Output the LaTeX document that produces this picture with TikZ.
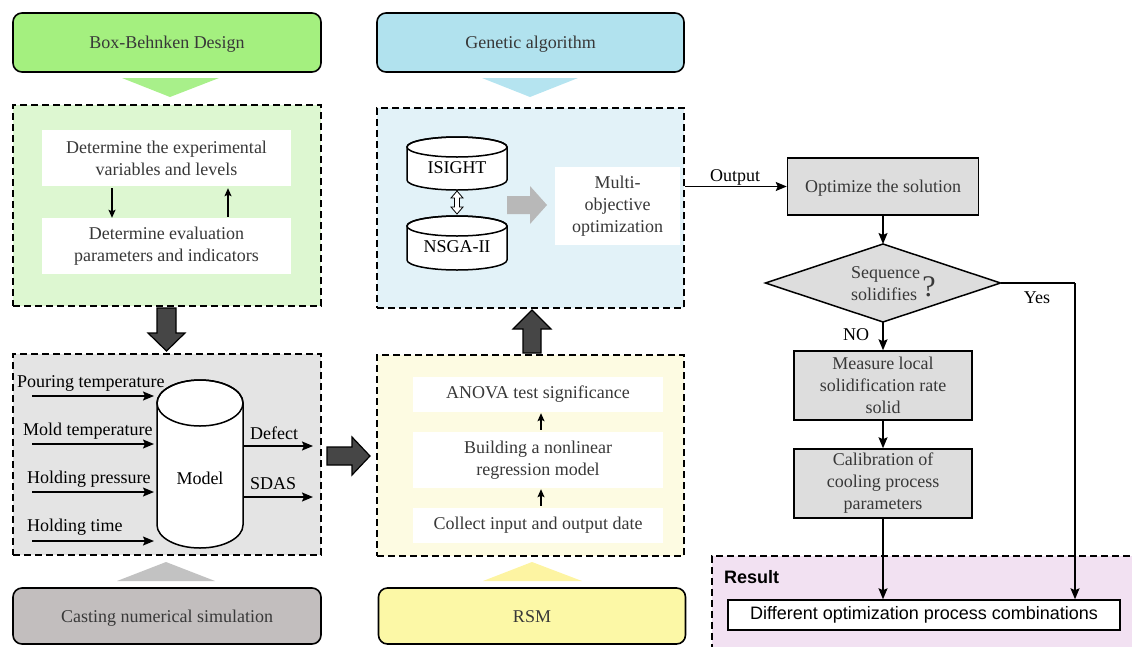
\documentclass[tikz,border=0pt]{standalone}
\usepackage{fontspec}
\setmainfont{Liberation Serif}
\setsansfont{Liberation Sans}
\usetikzlibrary{arrows.meta}
\definecolor{txt}{HTML}{383838}
\definecolor{hgreen}{HTML}{A4F07F}
\definecolor{tgreen}{HTML}{A8F08A}
\definecolor{rgreen}{HTML}{DDF7D1}
\definecolor{hblue}{HTML}{B1E2EE}
\definecolor{tblue}{HTML}{B5E4F0}
\definecolor{rblue}{HTML}{E2F2F8}
\definecolor{rgray}{HTML}{E4E4E4}
\definecolor{tgray}{HTML}{C2C2C2}
\definecolor{hgray}{HTML}{C2BEBE}
\definecolor{ryellow}{HTML}{FDFBE2}
\definecolor{tyellow}{HTML}{FDF4A2}
\definecolor{hyellow}{HTML}{FCF8A6}
\definecolor{boxgray}{HTML}{DDDDDD}
\definecolor{rpurple}{HTML}{F2E1F2}
\definecolor{darkarr}{HTML}{464646}
\definecolor{lightarr}{HTML}{B8B8B8}
\newcommand\fs{\fontsize{18}{22}\selectfont}
\tikzset{
  header/.style={draw, line width=1.6pt, rounded corners=9pt, minimum width=308pt, minimum height=59pt, text=txt, font=\fs, text height=12pt, text depth=0pt},
  region/.style={draw, line width=1.6pt, dash pattern=on 7pt off 4pt, inner sep=0pt},
  wbox/.style={fill=white, align=center, text=txt, inner sep=0pt, font=\fs},
  fbox/.style={draw, line width=1.5pt, fill=boxgray, align=center, text=txt, inner sep=2pt, font=\fs},
  arr/.style={line width=1.5pt, -{Stealth[length=11pt,width=9pt,inset=2pt]}},
  sarr/.style={line width=1.3pt, -{Stealth[length=8pt,width=7pt,inset=1.5pt]}},
  bigarr/.style={draw, line width=1.2pt, fill=darkarr},
  lbl/.style={inner sep=0pt, font=\fs},
}
\begin{document}
\begin{tikzpicture}[x=1pt,y=-1pt]
\useasboundingbox (0,0) rectangle (1132,646);

% headers
\node[header, fill=hgreen] (bbd) at (167,42.5) {Box-Behnken Design};
\node[header, fill=hblue, minimum width=307pt] (ga) at (530.5,42.5) {Genetic algorithm};
\node[header, fill=hgray, minimum height=56pt] (cns) at (167,616) {Casting numerical simulation};
\node[header, fill=hyellow, minimum width=307pt, minimum height=56pt] (rsm) at (532,616) {RSM};

% regions
\node[region, fill=rgreen, minimum width=308pt, minimum height=201pt] (greg) at (167,205.5) {};
\node[region, fill=rblue, minimum width=307pt, minimum height=200pt] (breg) at (530.5,208) {};
\node[region, fill=rgray, minimum width=308pt, minimum height=201pt] (greyreg) at (167,454.5) {};
\node[region, fill=ryellow, minimum width=307pt, minimum height=201pt] (yreg) at (530.5,455.5) {};

% triangles
\fill[tgreen] (122,78) -- (219,78) -- (170,97) -- cycle;
\fill[tblue] (482,78) -- (578,78) -- (530,97) -- cycle;
\fill[tgray] (117,581) -- (215,581) -- (166,562) -- cycle;
\fill[tyellow] (483,581) -- (582,581) -- (532,562) -- cycle;

% big dark arrows
\filldraw[bigarr] (157,308) -- (176,308) -- (176,333) -- (185,333) -- (166.5,351) -- (148,333) -- (157,333) -- cycle;
\filldraw[bigarr] (327,447) -- (352,447) -- (352,437) -- (370,456) -- (352,475) -- (352,465) -- (327,465) -- cycle;
\filldraw[bigarr] (523,353) -- (541,353) -- (541,329) -- (551,329) -- (532,310) -- (513,329) -- (523,329) -- cycle;

% green region content
\node[wbox, minimum width=249pt, minimum height=56pt] (dv) at (166.5,158) {Determine the experimental\\variables and levels};
\node[wbox, minimum width=249pt, minimum height=56pt] (de) at (166.5,246) {Determine evaluation\\parameters and indicators};
\draw[sarr, shorten <=2pt] ([xshift=-54.5pt]dv.south) -- ([xshift=-54.5pt]de.north);
\draw[sarr, shorten <=1pt, shorten >=2pt] ([xshift=61.5pt]de.north) -- ([xshift=61.5pt]dv.south);

% model cylinder
\node[inner sep=0pt, outer sep=0pt, minimum width=86pt, minimum height=168pt] (model) at (200,464) {};
\filldraw[fill=white, line width=1.5pt] (157,403) -- (157,525) arc[start angle=180, end angle=360, x radius=43pt, y radius=23pt] -- (243,403) arc[start angle=0, end angle=180, x radius=43pt, y radius=23pt] -- cycle;
\draw[line width=1.5pt] (200,403) ellipse [x radius=43pt, y radius=23pt];
\node[lbl] (modellbl) at (200,478) {Model};

% inputs
\coordinate (in1) at (32,396);
\coordinate (in2) at (32,444);
\coordinate (in3) at (32,492);
\coordinate (in4) at (32,541);
\draw[arr, shorten >=3pt] (in1) -- (in1 -| model.west);
\draw[arr, shorten >=3pt] (in2) -- (in2 -| model.west);
\draw[arr, shorten >=3pt] (in3) -- (in3 -| model.west);
\draw[arr, shorten >=3pt] (in4) -- (in4 -| model.west);
\node[lbl, anchor=west] (lpt) at (17,383) {Pouring temperature};
\node[lbl, anchor=west] (lmt) at (23,431) {Mold temperature};
\node[lbl, anchor=west] (lhp) at (27,479) {Holding pressure};
\node[lbl, anchor=west] (lht) at (27,527) {Holding time};

% outputs
\coordinate (out1) at (313,446);
\coordinate (out2) at (313,497);
\draw[arr] (model.east |- out1) -- (out1);
\draw[arr] (model.east |- out2) -- (out2);
\node[lbl, anchor=west] (ldef) at (250,433) {Defect};
\node[lbl, anchor=west] (lsdas) at (250,484) {SDAS};

% genetic region content
\node[inner sep=0pt, outer sep=0pt, minimum width=100pt, minimum height=53pt] (isight) at (457,163.5) {};
\filldraw[fill=white, line width=1.5pt] (407,147) -- (407,180) arc[start angle=180, end angle=360, x radius=50pt, y radius=10pt] -- (507,147) arc[start angle=0, end angle=180, x radius=50pt, y radius=10pt] -- cycle;
\draw[line width=1.5pt] (457,147) ellipse [x radius=50pt, y radius=10pt];
\node[lbl] (isightlbl) at (457,168) {ISIGHT};

\node[inner sep=0pt, outer sep=0pt, minimum width=100pt, minimum height=54pt] (nsga) at (457,243) {};
\filldraw[fill=white, line width=1.5pt] (407,226) -- (407,260) arc[start angle=180, end angle=360, x radius=50pt, y radius=10pt] -- (507,226) arc[start angle=0, end angle=180, x radius=50pt, y radius=10pt] -- cycle;
\draw[line width=1.5pt] (457,226) ellipse [x radius=50pt, y radius=10pt];
\node[lbl] (nsgalbl) at (457,247) {NSGA-II};

\filldraw[fill=white, line width=0.8pt] (457,191) -- (463,198) -- (459.5,198) -- (459.5,207) -- (463,207) -- (457,214) -- (451,207) -- (454.5,207) -- (454.5,198) -- (451,198) -- cycle;

\fill[lightarr] (507,196) -- (530,196) -- (530,186) -- (547,205) -- (530,224) -- (530,214) -- (507,214) -- cycle;
\node[wbox, minimum width=125pt, minimum height=78pt] (moo) at (617.5,206) {Multi-\\objective\\optimization};

% RSM region content
\node[wbox, minimum width=250pt, minimum height=35pt] (anova) at (538,394.5) {ANOVA test significance};
\node[wbox, minimum width=250pt, minimum height=56pt] (build) at (538,460) {Building a nonlinear\\regression model};
\node[wbox, minimum width=250pt, minimum height=35pt] (collect) at (538,525.5) {Collect input and output date};
\draw[sarr, shorten <=2pt, shorten >=1pt] ([xshift=3pt]collect.north) -- ([xshift=3pt]build.south);
\draw[sarr, shorten <=2pt, shorten >=1pt] ([xshift=3pt]build.north) -- ([xshift=3pt]anova.south);

% right column
\node[fbox, minimum width=191pt, minimum height=57pt, text height=12pt, text depth=0pt] (opt) at (883,186.5) {Optimize the solution};
\node[inner sep=0pt, outer sep=0pt, minimum width=235pt, minimum height=78pt] (dia) at (883,283) {};
\filldraw[fill=boxgray, line width=1.5pt] (dia.north) -- (dia.east) -- (dia.south) -- (dia.west) -- cycle;
\node[lbl, anchor=west, align=left, text=txt] (seqtxt) at (851,284) {Sequence\\solidifies};
\node[inner sep=0pt, font=\fontsize{30}{30}\selectfont, text=txt] (qm) at (929,287) {?};
\node[fbox, minimum width=178pt, minimum height=69pt] (meas) at (883,385.5) {Measure local\\solidification rate\\solid};
\node[fbox, minimum width=178pt, minimum height=69pt] (cal) at (883,483.5) {Calibration of\\cooling process\\parameters};

\draw[arr] (opt.south) -- (dia.north);
\draw[arr] (dia.south) -- (meas.north);
\draw[arr] (meas.south) -- (cal.north);
\draw[arr] (opt.west -| breg.east) -- (opt.west);
\node[lbl] (outlbl) at (735,177) {Output};
\node[lbl] (nolbl) at (856,335) {NO};

% result
\node[region, fill=rpurple, anchor=north west, minimum width=440pt, minimum height=110pt] (resreg) at (711,555) {};
\node[inner sep=0pt, anchor=west, font=\sffamily\bfseries\fs] (reslbl) at (724,577) {Result};
\node[draw, fill=white, line width=1.5pt, minimum width=392pt, minimum height=30pt, inner sep=0pt, font=\sffamily\fs] (resbox) at (924,615) {Different optimization process combinations};

\coordinate (yx) at (1075,283);
\draw[line width=1.5pt] (dia.east) -- (yx);
\draw[arr] (yx) -- (yx |- resbox.north);
\node[lbl] (yeslbl) at (1037,298) {Yes};
\draw[arr] (cal.south) -- (cal.south |- resbox.north);
\end{tikzpicture}
\end{document}
